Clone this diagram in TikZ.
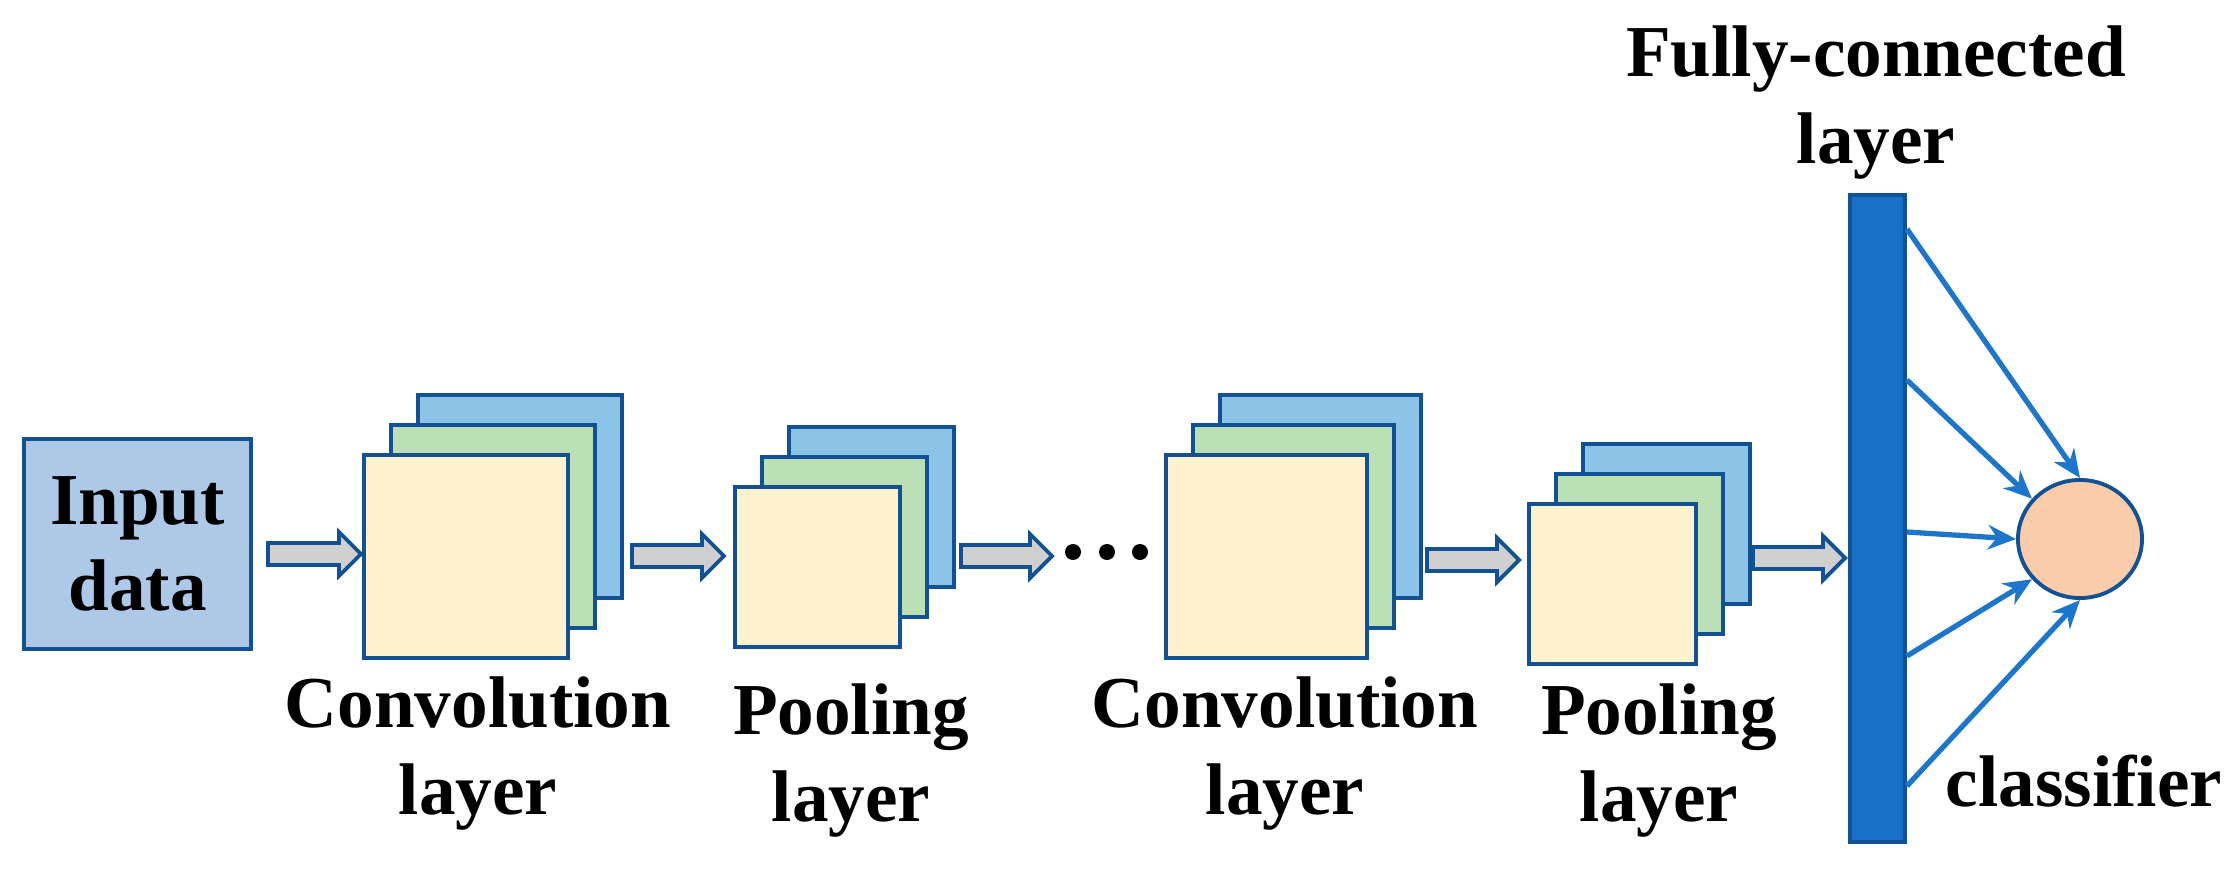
\documentclass[tikz,border=0pt]{standalone}
\usepackage{fontspec}
\setmainfont{Liberation Serif}
\usetikzlibrary{calc,arrows.meta,shapes.geometric}
\definecolor{edge}{RGB}{18,82,148}
\definecolor{inputfill}{RGB}{174,200,232}
\definecolor{lblue}{RGB}{141,195,230}
\definecolor{lgreen}{RGB}{187,224,182}
\definecolor{lyellow}{RGB}{255,242,204}
\definecolor{agray}{RGB}{208,208,208}
\definecolor{fcblue}{RGB}{24,113,198}
\definecolor{peach}{RGB}{251,204,170}
\definecolor{linkblue}{RGB}{30,118,204}
\newcommand\lblfont{\fontsize{20.8}{24.5}\selectfont\bfseries}
\tikzset{
  sheet/.style={draw=edge, line width=1.1pt, rectangle, inner sep=0pt, anchor=north west},
  lbl/.style={font=\lblfont, align=center, anchor=base, inner sep=0pt},
  blockarrow/.style={draw=edge, fill=agray, line width=1.1pt, line join=miter},
  link/.style={draw=linkblue, line width=1.5pt, -{Stealth[length=8pt,width=7pt]}},
  dot/.style={circle, fill=black, inner sep=0pt, minimum size=0.16cm}
}
% #1 name, #2 x, #3 y (front sheet top-left), #4 width, #5 height
\newcommand\layerstack[5]{%
  \node[sheet, fill=lblue, minimum width=#4, minimum height=#5] (#1b) at (#2+54,#3-60) {};
  \node[sheet, fill=lgreen, minimum width=#4, minimum height=#5] (#1g) at (#2+27,#3-30) {};
  \node[sheet, fill=lyellow, minimum width=#4, minimum height=#5] (#1y) at (#2,#3) {};
}
% #1 name, #2 x start, #3 x tip, #4 y
\newcommand\blockarr[4]{%
  \coordinate (#1s) at (#2,#4);
  \coordinate (#1t) at (#3,#4);
  \draw[blockarrow] ($(#1s)+(0,-11)$) -- ($(#1t)+(-22,-11)$) -- ($(#1t)+(-22,-22)$) -- (#1t)
     -- ($(#1t)+(-22,22)$) -- ($(#1t)+(-22,11)$) -- ($(#1s)+(0,11)$) -- cycle;
}
\begin{document}
\begin{tikzpicture}[x=0.01cm,y=-0.01cm]
\useasboundingbox (0,0) rectangle (2236,873);

\node[draw=edge, fill=inputfill, line width=1.1pt, minimum width=2.27cm, minimum height=2.10cm,
      inner sep=0pt, font=\lblfont, align=center] (in) at (137.5,544) {Input\\data};

\layerstack{ca}{362}{453}{2.04cm}{2.03cm}
\layerstack{pa}{733}{485}{1.65cm}{1.60cm}
\layerstack{cb}{1164}{453}{2.01cm}{2.03cm}
\layerstack{pb}{1527}{502}{1.67cm}{1.60cm}

\blockarr{a1}{268}{361}{554}
\blockarr{a2}{632}{724}{556}
\blockarr{a3}{961}{1052}{556}
\blockarr{a4}{1427}{1519}{560}
\blockarr{a5}{1753}{1845}{558}

\node[dot] (d1) at (1073,552) {};
\node[dot] (d2) at (1107,552) {};
\node[dot] (d3) at (1140,552) {};

\node[draw=edge, fill=fcblue, line width=1.1pt, minimum width=0.55cm, minimum height=6.47cm,
      inner sep=0pt, anchor=north west] (fc) at (1848,193) {};
\node[draw=edge, fill=peach, line width=1.1pt, ellipse, inner sep=0pt,
      minimum width=1.24cm, minimum height=1.18cm] (cls) at (2080,539) {};

\draw[link] ($(fc.north east)+(0,36)$) -- (cls.north);
\draw[link] ($(fc.north east)+(0,187)$) -- (cls.140);
\draw[link] ($(fc.north east)+(0,339)$) -- (cls.west);
\draw[link] ($(fc.north east)+(0,463)$) -- (cls.220);
\draw[link] ($(fc.north east)+(0,593)$) -- (cls.south);

\node[lbl] (lca) at (478,814) {Convolution\\layer};
\node[lbl] (lpa) at (851,821) {Pooling\\layer};
\node[lbl] (lcb) at (1285,814) {Convolution\\layer};
\node[lbl] (lpb) at (1659,821) {Pooling\\layer};
\node[lbl] (lfc) at (1876,163) {Fully-connected\\layer};
\node[lbl] (lcl) at (2084,806) {classifier};
\end{tikzpicture}
\end{document}
